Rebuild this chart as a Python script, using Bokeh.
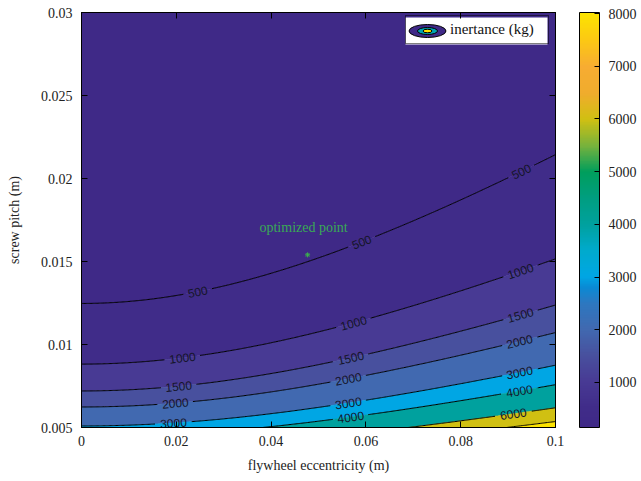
import numpy as np
from bokeh.plotting import figure
from bokeh.plotting.contour import contour_data
from bokeh.models import (LinearAxis, FixedTicker, CustomJSTickFormatter, ColorBar,
                          LinearColorMapper, Legend, LegendItem, Range1d)
from bokeh.embed import file_html
from bokeh.resources import INLINE
from bokeh.core.properties import value

# ---------------- data ----------------
ecc_limits = [0.0, 0.1]                 # flywheel eccentricity (m)
pitch_limits = [0.005, 0.03]            # screw pitch (m)
x_ticks = [0, 0.02, 0.04, 0.06, 0.08, 0.1]
y_ticks = [0.005, 0.01, 0.015, 0.02, 0.025, 0.03]
contour_levels = [500, 1000, 1500, 2000, 3000, 4000, 6000, 8000]
colorbar_ticks = [1000, 2000, 3000, 4000, 5000, 6000, 7000, 8000]
colorbar_limits = [146, 8020]
# inertance model  b = (J0 + m*e^2) * (2*pi/p)^2, parameters
flywheel_J0 = 0.00197       # kg m^2
eccentric_mass = 0.385      # kg
opt_ecc = [0.0477]
opt_pitch = [0.0154]
opt_text = ["optimized point"]
# eccentricities at which contour labels sit
label_ecc = {
    500: [0.0245, 0.0591, 0.0928],
    1000: [0.0213, 0.0574, 0.0926],
    1500: [0.0205, 0.0568, 0.0926],
    2000: [0.0198, 0.0563, 0.0924],
    3000: [0.0194, 0.0563, 0.0924],
    4000: [0.0568, 0.0924],
    6000: [0.0911],
}

# ---------------- style ----------------
FW, FH = 474, 415
SERIF = "Liberation Serif"
cmap_anchors = [
    (146, (63, 41, 135)), (500, (64, 44, 137)), (1000, (72, 58, 148)),
    (1500, (72, 80, 158)), (2000, (65, 105, 176)), (2500, (45, 120, 192)),
    (2800, (10, 138, 212)), (3000, (0, 166, 228)), (3500, (0, 170, 205)),
    (4000, (0, 161, 158)), (4500, (0, 158, 128)), (5000, (0, 158, 92)),
    (5500, (120, 178, 60)), (6000, (208, 192, 18)), (6500, (240, 172, 45)),
    (7000, (247, 172, 50)), (7500, (252, 200, 20)), (8020, (252, 228, 0)),
]
av = np.array([a[0] for a in cmap_anchors], float)
ac = np.array([a[1] for a in cmap_anchors], float)


def color_at(v):
    rgb = [int(round(np.interp(v, av, ac[:, k]))) for k in range(3)]
    return "#%02x%02x%02x" % tuple(rgb)


palette = [color_at(v) for v in np.linspace(colorbar_limits[0], colorbar_limits[1], 256)]

# ---------------- field ----------------
e = np.linspace(ecc_limits[0], ecc_limits[1], 401)
pt = np.linspace(pitch_limits[0], pitch_limits[1], 501)
E, P = np.meshgrid(e, pt)
Z = (flywheel_J0 + eccentric_mass * E ** 2) * (2 * np.pi / P) ** 2

p = figure(frame_width=FW, frame_height=FH,
           x_range=Range1d(*ecc_limits), y_range=Range1d(*pitch_limits),
           output_backend="svg", toolbar_location=None,
           min_border_left=81, min_border_top=12, min_border_bottom=54, min_border_right=0)
p.grid.visible = False
p.outline_line_color = "black"
p.background_fill_color = "white"
p.border_fill_color = "white"

# filled bands
fill_levels = [float(Z.min()) - 1] + contour_levels + [float(Z.max()) + 1]
fd = contour_data(e, pt, Z, fill_levels, want_line=False).fill_data
band_colors = [color_at(max(lo, colorbar_limits[0])) for lo in fd.lower_levels]
p.multi_polygons(xs=fd.xs, ys=fd.ys, fill_color=band_colors, line_color=band_colors,
                 line_width=0.6)

# contour lines with gaps at the labels
ld = contour_data(e, pt, Z, contour_levels, want_fill=False).line_data
kx = FW / (ecc_limits[1] - ecc_limits[0])
ky = FH / (pitch_limits[1] - pitch_limits[0])
line_xs, line_ys = [], []
lab_x, lab_y, lab_t, lab_a = [], [], [], []
for lev, xs, ys in zip(ld.levels, ld.xs, ld.ys):
    xs = np.array(xs, float)
    ys = np.array(ys, float)
    ok = np.isfinite(xs) & np.isfinite(ys)
    fx, fy = xs[ok], ys[ok]
    order = np.argsort(fx)
    fx, fy = fx[order], fy[order]
    xs2, ys2 = xs.copy(), ys.copy()
    for le in label_ecc.get(int(round(lev)), []):
        ly = np.interp(le, fx, fy)
        y1 = np.interp(le - 0.002, fx, fy)
        y2 = np.interp(le + 0.002, fx, fy)
        ang = np.arctan2((y2 - y1) * ky, 0.004 * kx)
        txt = str(int(round(lev)))
        half = 3.4 * len(txt) + 4
        d = np.hypot((xs - le) * kx, (ys - ly) * ky)
        gap = d < half
        xs2[gap] = np.nan
        ys2[gap] = np.nan
        lab_x.append(le); lab_y.append(ly); lab_t.append(txt); lab_a.append(ang)
    line_xs.append(xs2)
    line_ys.append(ys2)
p.multi_line(xs=line_xs, ys=line_ys, line_color="black", line_width=1)
p.text(x=lab_x, y=lab_y, text=lab_t, angle=lab_a, text_align="center",
       text_baseline="middle", text_font=value("Liberation Sans"),
       text_font_size="12px", text_color="#15152a")

# optimized point
p.scatter(x=opt_ecc, y=opt_pitch, marker="asterisk", size=5, line_color="#3cb44b",
          line_width=1)
p.text(x=opt_ecc, y=opt_pitch, text=opt_text, x_offset=-4, y_offset=-27,
       text_align="center", text_baseline="middle", text_font=value(SERIF),
       text_font_size="14px", text_color="#3aaa55")

# axes
fmt = CustomJSTickFormatter(code="return Number(tick.toPrecision(6)).toString();")
for ax, ticks in ((p.xaxis[0], x_ticks), (p.yaxis[0], y_ticks)):
    ax.ticker = FixedTicker(ticks=ticks)
    ax.formatter = fmt
    ax.major_tick_in = 6
    ax.major_tick_out = 0
    ax.minor_tick_line_color = None
    ax.major_tick_line_color = "black"
    ax.axis_line_color = "black"
    ax.major_label_text_font = SERIF
    ax.major_label_text_font_size = "14px"
    ax.major_label_text_color = "#222222"
    ax.axis_label_text_font = SERIF
    ax.axis_label_text_font_size = "14px"
    ax.axis_label_text_font_style = "normal"
    ax.axis_label_text_color = "#222222"
p.xaxis[0].axis_label = "flywheel eccentricity (m)"
p.yaxis[0].axis_label = "screw pitch (m)"
p.xaxis[0].major_label_standoff = 8
p.xaxis[0].axis_label_standoff = 9
p.yaxis[0].major_label_standoff = 9
p.yaxis[0].axis_label_standoff = 16

empty_fmt = CustomJSTickFormatter(code="return '';")
for loc, ticks in (("above", x_ticks), ("right", y_ticks)):
    ax = LinearAxis(ticker=FixedTicker(ticks=ticks), formatter=empty_fmt,
                    major_tick_in=6, major_tick_out=0, minor_tick_line_color=None,
                    major_label_standoff=0, major_tick_line_color="black",
                    axis_line_color="black")
    p.add_layout(ax, loc)

# colour bar
mapper = LinearColorMapper(palette=palette, low=colorbar_limits[0], high=colorbar_limits[1])
cb = ColorBar(color_mapper=mapper, ticker=FixedTicker(ticks=colorbar_ticks), width=20,
              height=FH, padding=0, margin=0, location=(24, 0),
              major_tick_in=5, major_tick_out=0,
              major_tick_line_color="black", bar_line_color="black", label_standoff=9,
              major_label_text_font=SERIF, major_label_text_font_size="14px",
              major_label_text_color="#222222", background_fill_color="white")
p.add_layout(cb, "right")

# legend with contour icon (box and icon drawn as glyphs, legend supplies text + border)
leg_vx, leg_vy = 324, 383
pad, gw, gh, lw = 3, 38, 21, 95
box_w = 2 * pad + gw + 3 + lw
box_h = 2 * pad + gh
p.quad(left=[leg_vx / kx], right=[(leg_vx + box_w) / kx],
       bottom=[pitch_limits[0] + leg_vy / ky], top=[pitch_limits[0] + (leg_vy + box_h) / ky],
       fill_color="white", line_color=None)
icon_x = ecc_limits[0] + (leg_vx + pad + gw / 2) / kx
icon_y = pitch_limits[0] + (leg_vy + pad + gh / 2) / ky
icon_specs = [(37, 13, color_at(colorbar_limits[0])), (20, 7, color_at(3800)),
              (9, 3.5, color_at(8000))]
for w, h, c in icon_specs:
    p.ellipse(x=[icon_x], y=[icon_y], width=w, height=h, width_units="screen",
              height_units="screen", fill_color=c, line_color="black", line_width=1)
dummy = p.line(x=[], y=[], line_alpha=0)
legend = Legend(items=[LegendItem(label="inertance (kg)", renderers=[dummy])],
                location=(leg_vx, leg_vy), padding=pad, margin=0, spacing=0,
                glyph_width=gw, glyph_height=gh, label_height=gh, label_width=lw,
                label_standoff=3,
                label_text_font=SERIF, label_text_font_size="15px",
                label_text_color="#111111", border_line_color="black",
                border_line_width=1, background_fill_alpha=0)
p.add_layout(legend, "center")

open("out.html", "w").write(file_html(p, INLINE))
